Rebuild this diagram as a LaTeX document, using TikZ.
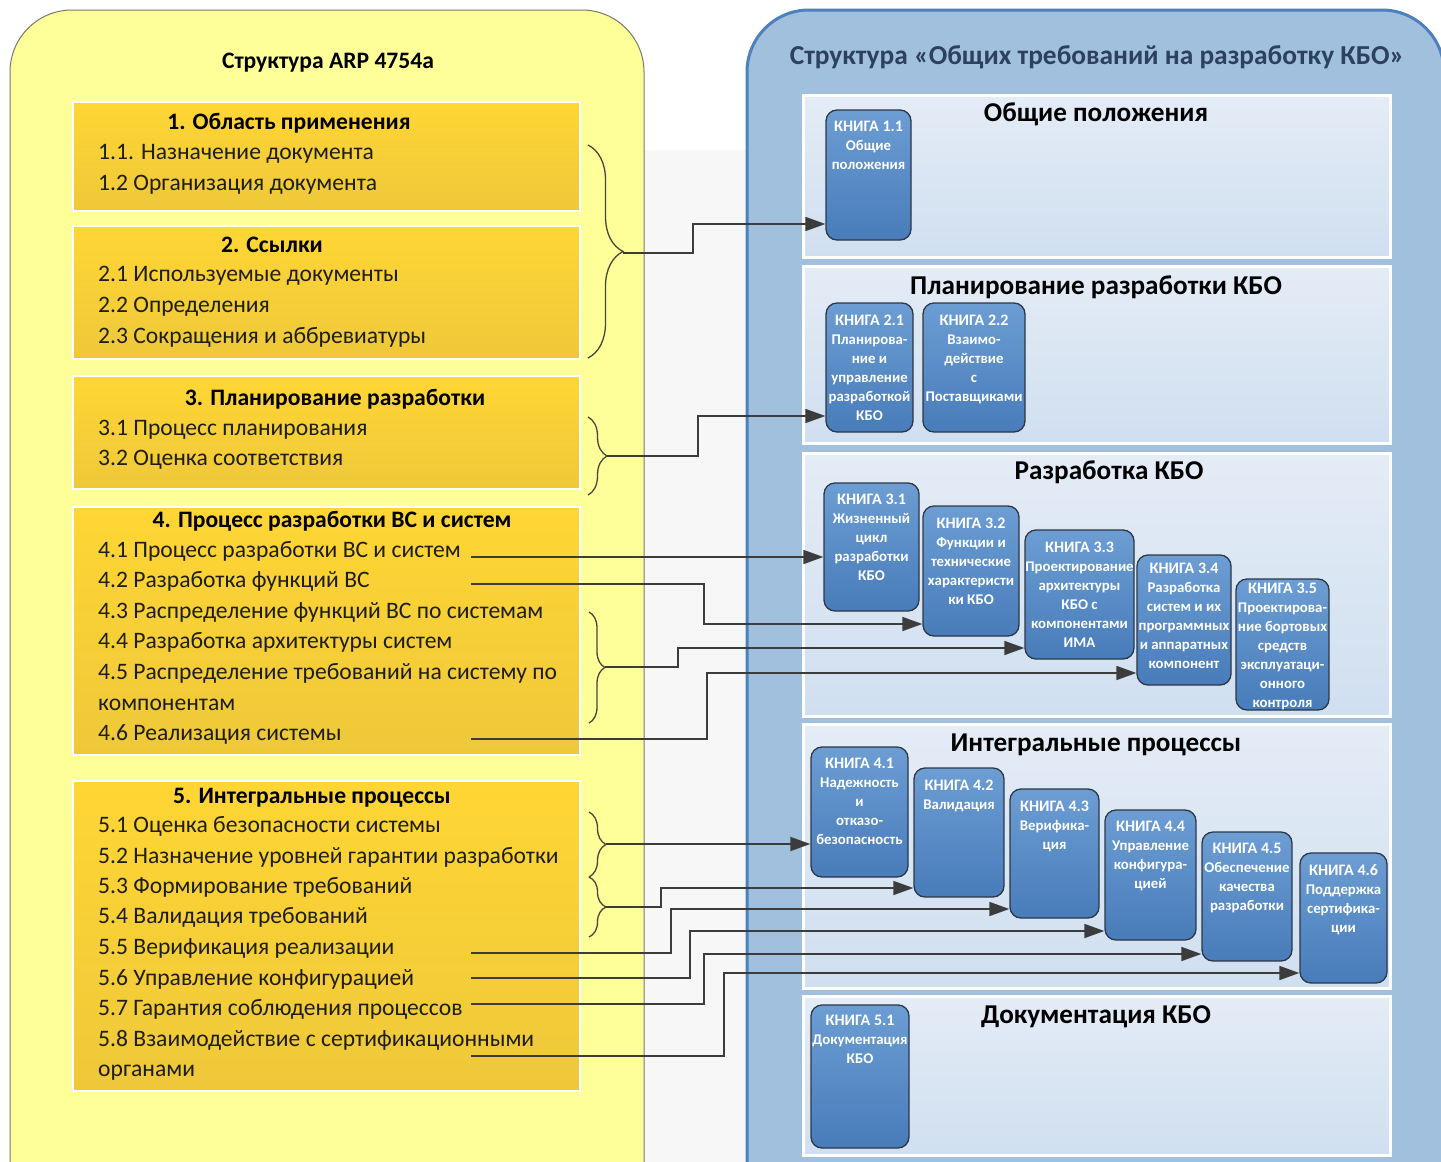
\documentclass[tikz,border=0pt]{standalone}
\usepackage{fontspec}
\setmainfont{Carlito}
\usetikzlibrary{arrows.meta,decorations.pathreplacing,fit,calc}
\definecolor{ypanel}{RGB}{255,255,153}
\definecolor{yline}{RGB}{120,120,110}
\definecolor{gold1}{RGB}{255,214,52}
\definecolor{gold2}{RGB}{238,200,58}
\definecolor{bpanel}{RGB}{160,192,222}
\definecolor{bborder}{RGB}{78,128,188}
\definecolor{sub1}{RGB}{228,236,246}
\definecolor{sub2}{RGB}{208,223,240}
\definecolor{book1}{RGB}{108,157,211}
\definecolor{book2}{RGB}{72,124,186}
\definecolor{bookline}{RGB}{45,55,70}
\definecolor{connc}{RGB}{60,60,60}
\definecolor{bracec}{RGB}{70,70,60}
\definecolor{btitle}{RGB}{45,65,95}
\definecolor{midgrey}{RGB}{247,247,247}
\newcommand\kniga[1]{{\fontsize{16}{19}\selectfont КНИГА #1}}
\begin{document}
\begin{tikzpicture}[x=1pt,y=-1pt,
  ypan/.style={draw=yline, line width=1pt, fill=ypanel, rounded corners=62pt, inner sep=0pt},
  bpan/.style={draw=bborder, line width=3pt, fill=bpanel, rounded corners=62pt, inner sep=0pt},
  subpan/.style={draw=white, line width=3pt, top color=sub1, bottom color=sub2, inner sep=0pt},
  goldbox/.style={draw=white, line width=1.5pt, top color=gold1, bottom color=gold2, inner sep=0pt},
  book/.style={draw=bookline, line width=1.3pt, top color=book1, bottom color=book2, rounded corners=11pt, inner sep=0pt},
  booktext/.style={text=white, font=\bfseries\fontsize{14.8}{19}\selectfont, align=center, anchor=north, inner sep=0pt},
  itemtext/.style={anchor=base west, inner sep=0pt, font=\fontsize{23.6}{26}\selectfont, text={rgb,255:red,30;green,30;blue,20}},
  gtitle/.style={anchor=base, inner sep=0pt, font=\bfseries\fontsize{23.6}{26}\selectfont},
  stitle/.style={anchor=base, inner sep=0pt, font=\bfseries\fontsize{27.2}{30}\selectfont},
  conn/.style={draw=connc, line width=1.7pt, -{Triangle[length=20pt,width=14pt]}},
  brc/.style={draw=bracec, line width=1.3pt, decorate, decoration={brace, amplitude=#1}}
]
\useasboundingbox (0,0) rectangle (1441,1162);
\clip (0,0) rectangle (1441,1162);
\fill[white] (0,0) rectangle (1441,1162);
\fill[midgrey] (644,150) rectangle (748,1162);

% panels
\node[ypan, fit={(10,10) (644,1240)}] (yp) {};
\node[bpan, fit={(747,10) (1444,1240)}] (bp) {};

\node[anchor=base, inner sep=0pt, font=\bfseries\fontsize{23.6}{26}\selectfont] (ytitle) at (328,68) {Структура ARP 4754a};
\node[anchor=base, inner sep=0pt, text=btitle, font=\bfseries\fontsize{27.4}{30}\selectfont] (btitle) at (1097,64) {Структура «Общих требований на разработку КБО»};

% sub panels
\node[subpan, fit={(803,95) (1390,257)}] (s1) {};
\node[subpan, fit={(803,266) (1390,443)}] (s2) {};
\node[subpan, fit={(803,453) (1390,716)}] (s3) {};
\node[subpan, fit={(803,724) (1390,988)}] (s4) {};
\node[subpan, fit={(803,996) (1390,1155)}] (s5) {};
\node[stitle] (t1) at (1096,121) {Общие положения};
\node[stitle] (t2) at (1096,294) {Планирование разработки КБО};
\node[stitle] (t3) at (1109,479) {Разработка КБО};
\node[stitle] (t4) at (1096,751) {Интегральные процессы};
\node[stitle] (t5) at (1096,1023) {Документация КБО};

% gold boxes
\node[goldbox, fit={(73,102) (580,211)}] (g1) {};
\node[goldbox, fit={(73,226) (580,359)}] (g2) {};
\node[goldbox, fit={(73,376) (580,489)}] (g3) {};
\node[goldbox, fit={(73,507) (580,755)}] (g4) {};
\node[goldbox, fit={(73,781) (580,1091)}] (g5) {};

\node[gtitle] (h1) at (289,129) {1. Область применения};
\node[gtitle] (h2) at (272,252) {2. Ссылки};
\node[gtitle] (h3) at (335,405) {3. Планирование разработки};
\node[gtitle] (h4) at (332,527) {4. Процесс разработки ВС и систем};
\node[gtitle] (h5) at (312,803) {5. Интегральные процессы};

\foreach \nm/\yy/\tt in {
  i11/152/{1.1. Назначение документа},
  i12/183/{1.2 Организация документа},
  i21/274/{2.1 Используемые документы},
  i22/305/{2.2 Определения},
  i23/336/{2.3 Сокращения и аббревиатуры},
  i31/428/{3.1 Процесс планирования},
  i32/458/{3.2 Оценка соответствия},
  i41/550/{4.1 Процесс разработки ВС и систем},
  i42/580/{4.2 Разработка функций ВС},
  i43/611/{4.3 Распределение функций ВС по системам},
  i44/641/{4.4 Разработка архитектуры систем},
  i45/672/{4.5 Распределение требований на систему по},
  i45b/703/{компонентам},
  i46/733/{4.6 Реализация системы},
  i51/825/{5.1 Оценка безопасности системы},
  i52/856/{5.2 Назначение уровней гарантии разработки},
  i53/886/{5.3 Формирование требований},
  i54/916/{5.4 Валидация требований},
  i55/947/{5.5 Верификация реализации},
  i56/978/{5.6 Управление конфигурацией},
  i57/1008/{5.7 Гарантия соблюдения процессов},
  i58/1039/{5.8 Взаимодействие с сертификационными},
  i58b/1069/{органами}}
  {\node[itemtext] (\nm) at (98,\yy+7.5) {\tt};}

% books
\foreach \nm/\xa/\ya/\xb/\yb/\off/\tt in {
  k11/826/110/911/240/12/{\kniga{1.1}\\Общие\\положения},
  k21/826/303/913/432/12/{\kniga{2.1}\\Планирова-\\ние и\\управление\\разработкой\\КБО},
  k22/923/303/1025/432/12/{\kniga{2.2}\\Взаимо-\\действие\\с\\Поставщиками},
  k31/824/483/919/611/11/{\kniga{3.1}\\Жизненный\\цикл\\разработки\\КБО},
  k32/923/506/1019/636/12/{\kniga{3.2}\\Функции и\\технические\\характеристи\\ки КБО},
  k33/1025/530/1134/659/12/{\kniga{3.3}\\Проектирование\\архитектуры\\КБО с\\компонентами\\ИМА},
  k34/1137/555/1231/685/8/{\kniga{3.4}\\Разработка\\систем и их\\программных\\и аппаратных\\компонент},
  k35/1236/579/1329/710/4/{\kniga{3.5}\\Проектирова-\\ние бортовых\\средств\\эксплуатаци-\\онного\\контроля},
  k41/811/747/908/877/12/{\kniga{4.1}\\Надежность\\и\\отказо-\\безопасность},
  k42/914/768/1004/897/12/{\kniga{4.2}\\Валидация},
  k43/1010/789/1099/918/12/{\kniga{4.3}\\Верифика-\\ция},
  k44/1105/810/1196/940/12/{\kniga{4.4}\\Управление\\конфигура-\\цией},
  k45/1202/832/1292/961/12/{\kniga{4.5}\\Обеспечение\\качества\\разработки},
  k46/1300/853/1387/983/12/{\kniga{4.6}\\Поддержка\\сертифика-\\ции},
  k51/811/1005/909/1148/11/{\kniga{5.1}\\Документация\\КБО}}
  {\node[book, fit={(\xa,\ya) (\xb,\yb)}] (\nm) {};
   \node[booktext] at ($(\nm.north)+(0,\off)$) {\tt};}

% braces
\draw[brc=35pt] (588,145) -- (588,358);
\draw[brc=19pt] (588,417) -- (588,495);
\draw[brc=16pt] (589,612) -- (589,723);
\draw[brc=17pt] (589,812) -- (589,877);
\draw[brc=17pt] (589,877) -- (589,937);
\coordinate (br1) at (623,253);
\coordinate (br2) at (607,456);
\coordinate (br3) at (605,667);
\coordinate (br4) at (606,844);
\coordinate (br5) at (606,907);

% connector start points
\coordinate (c41) at (471,557);
\coordinate (c42) at (471,584);
\coordinate (c46) at (471,739);
\coordinate (c55) at (471,953);
\coordinate (c56) at (471,978);
\coordinate (c57) at (471,1004);
\coordinate (c58) at (471,1056);

% connectors
\draw[conn] (br1) -| (693,224) -- (k11.west |- 0,224);
\draw[conn] (br2) -| (698,416) -- (k21.west |- 0,416);
\draw[conn] (c41) -- (k31.west |- 0,557);
\draw[conn] (c42) -| (704,624) -- (k32.west |- 0,624);
\draw[conn] (br3) -| (678,648) -- (k33.west |- 0,648);
\draw[conn] (c46) -| (707,673) -- (k34.west |- 0,673);
\draw[conn] (br4) -- (k41.west |- 0,844);
\draw[conn] (br5) -| (661,888) -- (k42.west |- 0,888);
\draw[conn] (c55) -| (671,909) -- (k43.west |- 0,909);
\draw[conn] (c56) -| (690,931) -- (k44.west |- 0,931);
\draw[conn] (c57) -| (704,954) -- (k45.west |- 0,954);
\draw[conn] (c58) -| (724,973) -- (k46.west |- 0,973);
\end{tikzpicture}
\end{document}
